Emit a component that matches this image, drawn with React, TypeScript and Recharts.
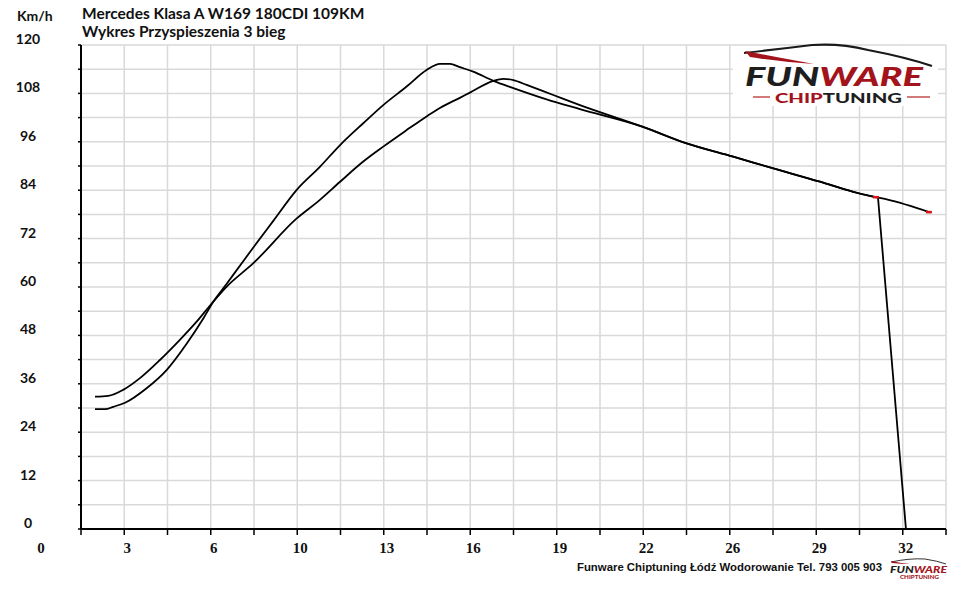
import React from 'react';
import { LineChart, Line, XAxis, YAxis, CartesianGrid } from 'recharts';

// time axis: 20 grid columns, labels on every second one
const xTicks = [1.375, 3, 4.625, 6.25, 7.875, 9.5, 11.125, 12.75, 14.375, 16, 17.625, 19.25, 20.875, 22.5, 24.125, 25.75, 27.375, 29, 30.625, 32.25, 33.875];
const xTickLabels = ['3', '6', '10', '13', '16', '19', '22', '26', '29', '32'];
const yTicks = [0, 6, 12, 18, 24, 30, 36, 42, 48, 54, 60, 66, 72, 78, 84, 90, 96, 102, 108, 114, 120];
const yTickLabels = ['0', '12', '24', '36', '48', '60', '72', '84', '96', '108', '120'];

// run A (steeper, earlier peak)
const timeA = [1.9, 2.28, 2.59, 3.03, 3.84, 4.59, 5.35, 5.97, 6.35, 6.85, 7.47, 7.85, 8.6, 9.48, 10.35, 11.11, 11.98, 12.73, 13.61, 14.36, 14.86, 15.24, 15.61, 16.11, 16.87, 17.62, 18.87, 20.12, 22.49, 24.13, 25.88, 27.39, 29.14, 30.39, 31.14, 31.32];
const speedA = [29.7, 29.7, 30.3, 31.3, 34.9, 39.4, 46.0, 52.2, 56.4, 60.8, 66.4, 69.8, 76.4, 84.1, 89.8, 95.2, 100.6, 105.1, 109.7, 113.8, 115.3, 115.3, 114.5, 113.4, 111.1, 109.3, 106.5, 104.1, 99.7, 95.6, 92.3, 89.4, 86.1, 83.6, 82.4, 82.2];
// run A falls off at the end
const dropTimeA = [31.32, 32.37];
const dropSpeedA = [82.2, 0];

// run B
const timeB = [1.9, 2.4, 2.96, 3.59, 4.34, 5.09, 5.72, 6.35, 6.85, 7.85, 9.48, 10.35, 11.11, 11.98, 12.73, 13.61, 14.36, 14.86, 15.61, 15.99, 16.87, 17.24, 17.62, 18.12, 19.12, 20.12, 22.49, 24.13, 25.88, 27.39, 29.14, 30.39, 31.14, 31.65, 33.27];
const speedB = [32.8, 33.0, 34.5, 37.4, 41.9, 46.9, 51.4, 56.4, 60.1, 65.9, 77.0, 81.6, 86.1, 91.1, 94.8, 98.9, 102.3, 104.4, 106.9, 108.2, 111.1, 111.6, 111.3, 110.1, 107.6, 105.1, 99.7, 95.6, 92.3, 89.4, 86.1, 83.6, 82.4, 81.7, 78.5];

const markTimeA = 31.32;
const markTimeB = 33.27;

const runA = timeA.map((t, i) => ({ t, v: speedA[i] }));
const dropA = dropTimeA.map((t, i) => ({ t, v: dropSpeedA[i] }));
const runB = timeB.map((t, i) => ({ t, v: speedB[i] }));

const XTick = (props: any) => {
    const { x, index } = props;
    if (index % 2 === 0) return <g />;
    return (
        <text x={x + 3} y={553} textAnchor="middle" fontFamily="'Liberation Serif', serif" fontWeight="bold" fontSize={15} fill="#111">
            {xTickLabels[(index - 1) / 2]}
        </text>
    );
};

const YTick = (props: any) => {
    const { y, index } = props;
    if (index % 2 === 1) return <g />;
    return (
        <text x={28} y={y - 1} textAnchor="middle" fontFamily="Lato, sans-serif" fontWeight="bold" fontSize={14} fill="#111">
            {yTickLabels[index / 2]}
        </text>
    );
};

const markDot = (mark: number, left: number) => (p: any) => {
    if (p.payload && p.payload.t === mark) {
        return <rect key={p.index} x={p.cx - left} y={p.cy - 1.5} width={6} height={2.5} fill="#e01010" />;
    }
    return <g key={p.index} />;
};

export default function App() {
    return (
        <div style={{ position: 'absolute', left: 0, top: 0, width: 960, height: 591, background: '#fff' }}>
            <LineChart width={960} height={591} margin={{ top: 45, right: 14, bottom: 0, left: 0 }}>
                <CartesianGrid stroke="#d9d9d9" strokeWidth={1.5} />
                <XAxis
                    type="number"
                    dataKey="t"
                    domain={[1.375, 33.875]}
                    ticks={xTicks}
                    interval={0}
                    height={62}
                    tickSize={6}
                    allowDataOverflow
                    axisLine={{ stroke: '#000', strokeWidth: 2 }}
                    tickLine={{ stroke: '#000', strokeWidth: 1.5 }}
                    tick={<XTick />}
                />
                <YAxis
                    type="number"
                    domain={[0, 120]}
                    ticks={yTicks}
                    interval={0}
                    width={81}
                    tickSize={3}
                    axisLine={{ stroke: '#000', strokeWidth: 2 }}
                    tickLine={{ stroke: '#000', strokeWidth: 1.5 }}
                    tick={<YTick />}
                />
                <Line data={runA} dataKey="v" type="monotone" stroke="#000" strokeWidth={1.8} dot={false} activeDot={false} isAnimationActive={false} />
                <Line data={dropA} dataKey="v" type="linear" stroke="#000" strokeWidth={1.8} dot={markDot(markTimeA, 5)} activeDot={false} isAnimationActive={false} />
                <Line data={runB} dataKey="v" type="monotone" stroke="#000" strokeWidth={1.8} dot={markDot(markTimeB, 4)} activeDot={false} isAnimationActive={false} />
            </LineChart>
            <svg width={960} height={591} style={{ position: 'absolute', left: 0, top: 0, pointerEvents: 'none' }}>
                <text x={17} y={21} fontFamily="Lato, sans-serif" fontWeight="bold" fontSize={14} fill="#111">Km/h</text>
                <text x={82} y={19} fontFamily="Lato, sans-serif" fontWeight="bold" fontSize={15.5} fill="#111">Mercedes Klasa A W169 180CDI 109KM</text>
                <text x={82} y={37} fontFamily="Lato, sans-serif" fontWeight="bold" fontSize={15.5} fill="#111">Wykres Przyspieszenia 3 bieg</text>
                <text x={41} y={553} textAnchor="middle" fontFamily="'Liberation Serif', serif" fontWeight="bold" fontSize={15} fill="#111">0</text>

                {/* logo top right */}
                <rect x={733} y={46} width={205} height={60} fill="#fff" />
                <path d="M744,53 Q780,49 812,45 Q840,43 868,50 Q905,57 932,66" fill="none" stroke="#1a1a1a" strokeWidth={2.2} />
                <path d="M745,51 Q775,57 814,64 Q780,62 750,57 Z" fill="#a3131b" />
                <text x={745} y={86} textLength={178} lengthAdjust="spacingAndGlyphs" fontFamily="Lato, sans-serif" fontWeight={900} fontStyle="italic" fontSize={26}>
                    <tspan fill="#1e1e1e">FUN</tspan>
                    <tspan fill="#a3131b">WARE</tspan>
                </text>
                <line x1={753} y1={97} x2={770} y2={97} stroke="#b02020" strokeWidth={1.2} />
                <line x1={907} y1={97} x2={930} y2={97} stroke="#b02020" strokeWidth={1.2} />
                <text x={775} y={103} textLength={127} lengthAdjust="spacingAndGlyphs" fontFamily="Lato, sans-serif" fontWeight={900} fontSize={14}>
                    <tspan fill="#a3131b">CHIP</tspan>
                    <tspan fill="#1e1e1e">TUNING</tspan>
                </text>

                {/* footer */}
                <text x={577} y={571} textLength={305} lengthAdjust="spacingAndGlyphs" fontFamily="'Liberation Sans', sans-serif" fontWeight="bold" fontSize={10.5} fill="#111">
                    Funware Chiptuning Łódź Wodorowanie Tel. 793 005 903
                </text>
                <path d="M891,562 Q910,558 925,559 Q938,561 946,564" fill="none" stroke="#333" strokeWidth={1} />
                <path d="M891,561 Q900,563 910,564 Q900,564 892,563 Z" fill="#a3131b" />
                <text x={890} y={573} textLength={57} lengthAdjust="spacingAndGlyphs" fontFamily="Lato, sans-serif" fontWeight={900} fontStyle="italic" fontSize={10}>
                    <tspan fill="#1e1e1e">FUN</tspan>
                    <tspan fill="#a3131b">WARE</tspan>
                </text>
                <text x={900} y={579} textLength={39} lengthAdjust="spacingAndGlyphs" fontFamily="Lato, sans-serif" fontWeight={900} fontSize={5} fill="#a3131b">
                    CHIPTUNING
                </text>
            </svg>
        </div>
    );
}
